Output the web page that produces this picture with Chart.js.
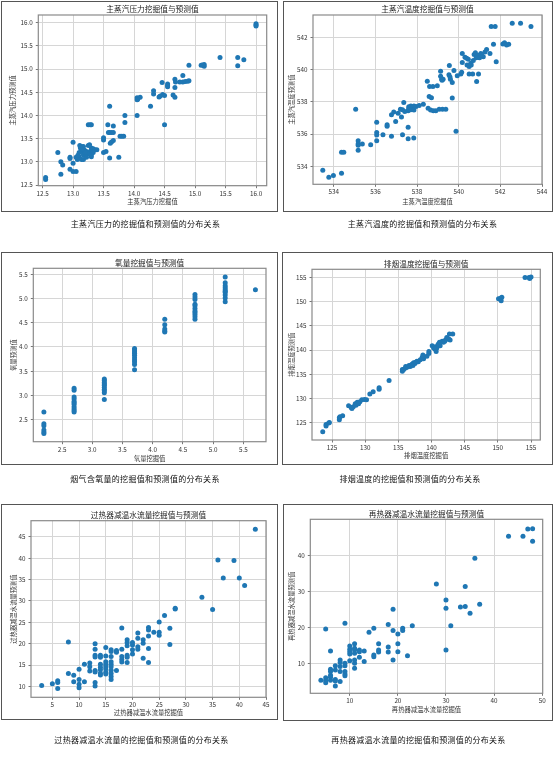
<!DOCTYPE html>
<html><head><meta charset="utf-8">
<script src="https://cdn.jsdelivr.net/npm/chart.js@4.4.1/dist/chart.umd.min.js"></script>
<style>
html,body{margin:0;padding:0;background:#fff;width:554px;height:758px;overflow:hidden;font-family:"Noto Sans CJK SC","Noto Sans",sans-serif;}
.box{position:absolute;box-sizing:border-box;border:1px solid #555;}
canvas{position:absolute;left:0;top:0;}
.cap{position:absolute;font-size:8px;letter-spacing:0.3px;color:#111;white-space:nowrap;transform:translate(-50%,-50%);line-height:1;}
</style></head><body>
<div class="box" style="left:1px;top:1px;width:277px;height:211px"></div>
<div class="box" style="left:283px;top:1px;width:270px;height:211px"></div>
<div class="box" style="left:1px;top:252px;width:277px;height:213px"></div>
<div class="box" style="left:282px;top:252px;width:271px;height:213px"></div>
<div class="box" style="left:1px;top:504px;width:277px;height:216px"></div>
<div class="box" style="left:283px;top:504px;width:270px;height:217px"></div>
<script>
// ---------- Panel 1: 主蒸汽压力 ----------
const p1X = [16.0,16.0,16.0,15.41,15.70,15.70,15.8,15.1,15.15,15.15,15.12,14.9,14.8,14.67,14.68,14.75,14.8,14.84,14.88,14.9,14.55,14.55,14.55,14.46,14.67,14.47,14.5,14.64,14.67,14.32,14.32,14.41,14.43,14.05,14.06,14.1,14.05,14.27,14.05,14.5,13.85,13.85,13.6,13.57,13.58,13.6,13.63,13.66,13.66,13.61,13.63,13.66,13.77,13.8,13.83,13.5,13.5,13.5,13.54,13.6,13.75,13.25,13.28,13.3,13.0,12.75,12.8,12.83,12.8,12.95,12.95,12.95,13.0,13.05,13.0,12.55,12.55,
  13.11,13.14,13.17,13.12,13.1,13.14,13.19,13.22,13.28,13.25,13.3,13.33,13.36,13.39,13.27,13.25,13.17,13.1,13.07,13.14,13.17,13.1,13.3,13.33,13.21,13.27,13.22,13.05,13.08,13.2,13.15,13.3];
const p1Y = [15.98,15.95,15.93,15.25,15.25,15.07,15.2,15.08,15.1,15.06,15.09,15.08,14.86,14.78,14.72,14.72,14.72,14.73,14.74,14.75,14.68,14.64,14.62,14.71,14.6,14.45,14.43,14.44,14.39,14.53,14.46,14.4,14.42,14.38,14.35,14.39,14.34,14.2,14.0,13.8,14.0,13.85,14.2,13.8,13.63,13.63,13.63,13.63,13.77,13.4,13.43,13.46,13.55,13.55,13.55,13.52,13.47,13.2,13.22,13.08,13.1,13.8,13.8,13.8,13.42,13.2,13.0,12.93,12.73,13.1,13.07,12.84,12.79,12.79,12.97,12.66,12.62,
  13.35,13.33,13.33,13.3,13.2,13.22,13.25,13.22,13.22,13.35,13.3,13.28,13.26,13.26,13.37,13.18,13.15,13.11,13.05,13.05,13.05,13.08,13.11,13.2,13.13,13.17,13.1,13.1,13.14,13.2,13.27,13.15];
const p1XTicks = [12.5,13.0,13.5,14.0,14.5,15.0,15.5,16.0];
const p1YTicks = [12.5,13.0,13.5,14.0,14.5,15.0,15.5,16.0];

// ---------- Panel 2: 主蒸汽温度 ----------
const p2X = [533.47,533.76,533.98,534.37,534.37,534.48,535.05,535.17,535.17,535.17,535.17,535.37,535.77,536.06,536.06,536.06,536.06,536.36,536.56,536.56,536.77,536.77,536.88,537.09,536.97,537.2,537.3,537.41,537.25,537.3,537.36,537.57,537.57,537.84,
  537.6,537.7,537.77,537.85,537.57,537.6,537.7,537.85,537.95,538.1,538.3,
  538.49,538.58,538.69,538.6,538.76,538.53,538.65,538.78,538.9,539.06,539.22,539.38,538.97,
  539.13,539.13,539.18,539.2,539.25,539.53,539.58,539.6,539.69,539.55,539.69,539.77,539.87,
  539.93,540.1,540.14,540.17,540.17,540.3,540.38,540.46,540.58,540.7,540.4,540.5,540.6,540.5,540.67,
  540.74,540.84,540.95,541.06,541.18,541.26,541.34,540.86,540.95,540.8,540.9,541.0,541.1,
  541.5,541.67,541.8,541.56,541.75,542.12,542.2,542.3,542.4,542.57,542.97,543.47];
const p2Y = [533.75,533.32,533.42,533.57,534.87,534.87,537.55,535.59,535.4,535.3,534.99,535.38,535.34,536.73,536.1,535.94,535.59,535.96,536.58,536.48,535.86,537.2,537.37,537.3,536.79,537.55,537.51,537.41,537.06,535.96,537.97,535.71,536.42,535.76,
  537.7,537.75,537.65,537.75,537.45,537.6,537.52,537.5,537.72,537.78,537.85,
  539.29,538.34,538.26,538.95,538.95,537.6,537.5,537.45,537.45,537.55,537.55,537.55,539.0,
  539.6,539.9,539.4,539.35,539.4,539.68,539.54,539.4,539.2,540.26,538.24,539.95,536.17,
  539.62,539.74,539.85,541.0,540.45,540.78,540.72,540.65,540.4,540.57,540.3,540.2,540.3,539.74,539.74,
  540.95,540.75,540.85,541.0,540.8,541.1,541.25,539.27,539.74,541.05,540.9,540.75,540.9,
  541.0,541.58,540.5,542.68,542.68,541.6,541.68,541.54,541.58,542.88,542.88,542.68];
const p2XTicks = [534,536,538,540,542,544];
const p2YTicks = [534,536,538,540,542];

// ---------- Panel 3: 氧量 ----------
const p3X = [2.2,2.2,2.2,2.2,2.2,2.2,
  2.7,2.7,2.7,2.7,2.7,2.7,2.7,2.7,2.7,2.7,2.7,
  3.2,3.2,3.2,3.2,3.2,3.2,3.2,3.2,3.2,3.2,
  3.7,3.7,3.7,3.7,3.7,3.7,3.7,3.7,3.7,3.7,
  4.2,4.2,4.2,4.2,4.2,
  4.7,4.7,4.7,4.7,4.7,4.7,4.7,4.7,4.7,4.7,4.7,
  5.2,5.2,5.2,5.2,5.2,5.2,5.2,5.2,5.2,5.2,
  5.7];
const p3Y = [2.66,2.42,2.38,2.29,2.25,2.22,
  3.15,3.11,2.97,2.93,2.88,2.85,2.82,2.77,2.73,2.69,2.66,
  3.34,3.31,3.27,3.24,3.21,3.17,3.13,3.1,3.06,2.92,
  3.97,3.94,3.9,3.87,3.83,3.78,3.73,3.69,3.64,3.53,
  4.57,4.46,4.37,4.33,4.31,
  5.08,5.03,4.98,4.88,4.85,4.79,4.74,4.71,4.67,4.62,4.57,
  5.44,5.32,5.26,5.22,5.18,5.15,5.12,5.07,5.01,4.93,
  5.18];
const p3XTicks = [2.5,3.0,3.5,4.0,4.5,5.0,5.5];
const p3YTicks = [2.5,3.0,3.5,4.0,4.5,5.0,5.5];

// ---------- Panel 4: 排烟温度 ----------
const p4X = [123.6,124.1,124.1,124.5,124.6,126.1,126.1,126.2,126.6,127.5,127.9,128.2,128.5,128.8,129.2,129.5,129.9,130.2,128.0,128.6,129.0,130.7,131.2,132.1,132.1,133.6,
  135.6,135.6,135.8,136.1,136.1,136.4,136.6,136.8,137.1,136.9,137.3,137.5,137.8,138.0,138.3,138.8,139.3,138.6,138.7,137.2,137.6,
  139.6,139.6,140.1,140.3,140.6,140.8,140.5,141.3,141.0,141.6,141.8,141.2,142.1,142.6,142.8,142.3,142.0,140.7,142.7,143.2,
  150.1,150.4,150.5,150.6,154.1,154.7,155.0,154.8];
const p4Y = [123.1,124.3,124.6,124.9,125.0,125.6,126.0,126.2,126.4,128.5,128.1,128.3,128.9,129.2,129.3,129.7,129.8,129.7,127.9,128.6,128.9,130.9,131.4,131.9,132.2,133.7,
  135.6,136.0,136.0,136.3,136.6,136.5,136.8,136.6,137.1,136.9,137.4,137.2,137.7,137.6,138.0,138.2,138.7,138.5,139.0,136.8,137.5,
  139.3,139.7,140.9,140.5,140.7,140.4,140.2,140.9,141.2,141.8,141.6,141.6,142.1,142.3,142.1,142.6,141.8,139.7,143.3,143.3,
  150.6,150.7,150.2,150.9,155.0,155.0,155.1,154.8];
const p4XTicks = [125,130,135,140,145,150,155];
const p4YTicks = [125,130,135,140,145,150,155];

// ---------- Panel 5: 过热器减温水流量 ----------
const p5X = [3,5,6,6,6,8,8,9,9,10,10,10,10,11,11,12,12,12,
  13,13,13,13,13,13,13,13,14,14,14,14,14,14,14,
  15,15,15,15,15,15,15,15,16,16,16,16,16,16,16,16,16,16,17,17,17,
  18,18,18,18,18,19,19,19,19,19,19,20,20,20,20,21,21,21,21,22,22,22,
  23,23,23,23,23,24,25,25,25,26,27,27,28,28,33,35,36,37,39,40,41,43];
const p5Y = [10.2,10.6,11.3,10.9,9.5,20.4,13.0,12.6,11.1,14.0,11.6,10.5,9.7,15.2,11.1,15.5,14.6,13.6,
  20.0,18.7,17.3,16.9,13.7,13.4,10.9,10.1,17.3,16.8,15.2,14.5,13.9,13.1,12.7,
  19.1,17.1,15.8,15.2,14.6,14.1,13.3,12.9,18.6,18.2,17.0,15.8,15.2,14.6,13.8,13.0,12.3,11.6,18.4,18.0,13.7,
  23.7,18.7,17.0,16.3,15.7,20.9,20.3,19.5,17.3,16.8,15.6,20.3,19.7,18.6,17.6,22.5,21.3,19.3,18.7,20.9,20.1,16.6,
  23.8,23.2,21.8,18.9,15.6,22.7,25.1,22.7,22.0,26.6,23.6,19.8,28.1,28.3,30.9,28.0,39.6,35.4,39.5,35.4,33.6,46.8];
const p5XTicks = [5,10,15,20,25,30,35,40,45];
const p5YTicks = [10,15,20,25,30,35,40,45];

// ---------- Panel 6: 再热器减温水流量 ----------
const p6X = [4,5,5,5,5,6,6,6,6,6,6,7,7,7,7,7,8,8,8,8,8,9,9,9,9,9,9,
  10,10,10,10,10,11,11,11,11,11,11,11,12,12,12,13,13,14,15,15,15,16,16,16,
  18,18,18,19,19,19,20,20,20,21,21,22,23,28,30,30,30,31,33,34,34,35,36,37,43,46,47,48,48];
const p6Y = [5.4,19.6,6.1,5.3,4.7,13.5,8.4,7.8,6.8,6.2,5.4,9.4,8.2,5.6,5.2,3.8,11.0,10.3,9.2,7.8,5.0,21.2,10.1,9.4,7.8,7.1,6.6,
  14.9,14.0,13.3,12.7,10.8,15.5,14.3,13.8,12.9,11.0,10.1,8.7,13.8,13.3,11.8,13.5,10.6,18.7,19.8,12.4,11.9,15.5,13.8,13.2,
  20.9,14.6,13.2,25.1,19.2,11.0,18.2,15.5,13.3,19.8,19.2,12.2,20.5,32.1,27.7,25.4,13.8,20.5,25.7,31.4,25.9,24.0,39.3,26.5,45.4,45.4,47.4,47.5,44.0];
const p6XTicks = [10,20,30,40,50];
const p6YTicks = [10,20,30,40];

// ---------- Text ----------
const titles = ['主蒸汽压力挖掘值与预测值','主蒸汽温度挖掘值与预测值','氧量挖掘值与预测值','排烟温度挖掘值与预测值','过热器减温水流量挖掘值与预测值','再热器减温水流量挖掘值与预测值'];
const xLabels = ['主蒸汽压力挖掘值','主蒸汽温度挖掘值','氧量挖掘值','排烟温度挖掘值','过热器减温水流量挖掘值','再热器减温水流量挖掘值'];
const yLabels = ['主蒸汽压力预测值','主蒸汽温度预测值','氧量预测值','排烟温度预测值','过热器减温水流量预测值','再热器减温水流量预测值'];
const captions = ['主蒸汽压力的挖掘值和预测值的分布关系','主蒸汽温度的挖掘值和预测值的分布关系','烟气含氧量的挖掘值和预测值的分布关系','排烟温度的挖掘值和预测值的分布关系','过热器减温水流量的挖掘值和预测值的分布关系','再热器减温水流量的挖掘值和预测值的分布关系'];

// ---------- Layout (pixels) ----------
const layouts = [
  {L:38.3,R:266.7,T:15,B:185.7,yt:13,xt:202,xr:[12.43,16.175],yr:[12.485,16.166],d:1,cx:145.5,cy:224},
  {L:313,R:542,T:15,B:184.3,yt:292,xt:201.7,xr:[533,544],yr:[532.88,543.4],d:0,cx:422.5,cy:224},
  {L:33.3,R:266,T:268.3,B:441.7,yt:13.3,xt:458.3,xr:[2.025,5.875],yr:[2.05,5.62],d:1,cx:145,cy:479},
  {L:312,R:540.3,T:269.3,B:440,yt:292,xt:456,xr:[121.98,156.4],yr:[121.4,156.7],d:0,cx:410,cy:479},
  {L:31,R:266,T:520.7,B:697.3,yt:13.3,xt:712.3,xr:[1,45],yr:[7.45,48.8],d:0,cx:141.5,cy:740},
  {L:310.3,R:542.7,T:519.3,B:693.3,yt:292,xt:710,xr:[1.8,50.1],yr:[1.75,50.1],d:0,cx:418.5,cy:740}
];
const series = [[p1X,p1Y,p1XTicks,p1YTicks],[p2X,p2Y,p2XTicks,p2YTicks],[p3X,p3Y,p3XTicks,p3YTicks],[p4X,p4Y,p4XTicks,p4YTicks],[p5X,p5Y,p5XTicks,p5YTicks],[p6X,p6Y,p6XTicks,p6YTicks]];

const FONT = '"Noto Sans CJK SC","Noto Sans",sans-serif';
const TICK = 6.3, AX = 6.3, TT = 7.7, LH = 1.2;
const axHalf = AX*LH/2;
const spine = {id:'spine', afterDatasetsDraw(c){const a=c.chartArea,ctx=c.ctx;ctx.save();ctx.strokeStyle='#8a8a8a';ctx.lineWidth=1.2;ctx.strokeRect(a.left,a.top,a.right-a.left,a.bottom-a.top);ctx.restore();}};

layouts.forEach((g,i)=>{
  const [xs,ys,xt,yt] = series[i];
  const cv = document.createElement('canvas');
  cv.width=554; cv.height=758;
  document.body.appendChild(cv);
  const pts = xs.map((v,k)=>({x:v,y:ys[k]}));
  const tickOpts = {autoSkip:false,maxRotation:0,minRotation:0,font:{family:FONT,size:TICK},color:'#333',callback:v=>Number(v).toFixed(g.d)};
  const gridOpts = {color:'#d6d6d6',lineWidth:1,drawTicks:true,tickLength:2.5,tickColor:'#777'};
  new Chart(cv,{
    type:'scatter',
    data:{datasets:[{data:pts,backgroundColor:'#1f77b4',borderWidth:0,pointRadius:2.5,pointHoverRadius:2.5}]},
    options:{
      responsive:false,animation:false,events:[],
      layout:{padding:{left:g.yt-axHalf,right:554-g.R,top:g.T-(TT*LH+1),bottom:758-(g.xt+axHalf)}},
      plugins:{legend:{display:false},tooltip:{enabled:false},
        title:{display:true,text:titles[i],fullSize:false,color:'#222',font:{family:FONT,size:TT,weight:'normal',lineHeight:LH},padding:{top:0,bottom:1}}},
      scales:{
        x:{type:'linear',position:'bottom',min:g.xr[0],max:g.xr[1],
          afterBuildTicks:s=>{s.ticks=xt.map(v=>({value:v}));},
          afterFit:s=>{s.height=g.xt+axHalf-g.B;},
          ticks:Object.assign({padding:1.5},tickOpts),grid:gridOpts,border:{display:false},
          title:{display:true,text:xLabels[i],color:'#333',font:{family:FONT,size:AX,lineHeight:LH},padding:0}},
        y:{type:'linear',position:'left',min:g.yr[0],max:g.yr[1],
          afterBuildTicks:s=>{s.ticks=yt.map(v=>({value:v}));},
          afterFit:s=>{s.width=g.L-(g.yt-axHalf);},
          ticks:Object.assign({padding:3},tickOpts),grid:gridOpts,border:{display:false},
          title:{display:true,text:yLabels[i],color:'#333',font:{family:FONT,size:AX,lineHeight:LH},padding:0}}
      }
    },
    plugins:[spine]
  });
  const cap = document.createElement('div');
  cap.className='cap'; cap.textContent=captions[i];
  cap.style.left=g.cx+'px'; cap.style.top=g.cy+'px';
  document.body.appendChild(cap);
});
</script>
</body></html>
